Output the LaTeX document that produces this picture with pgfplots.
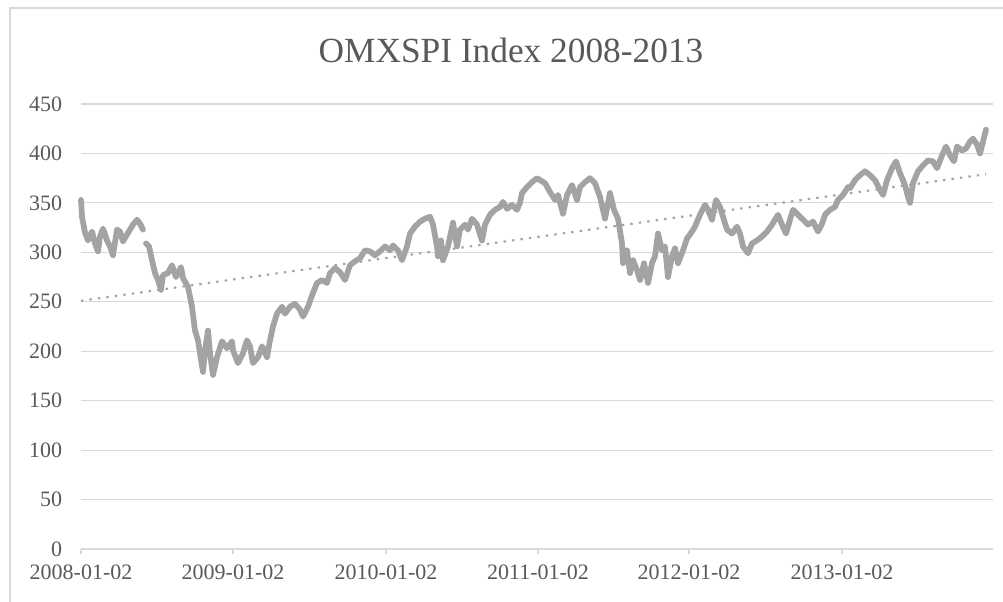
\documentclass[border=0pt]{standalone}
\usepackage{pgfplots}
\pgfplotsset{compat=1.18}
\usepackage{fontspec}
\setmainfont{Liberation Serif}
\definecolor{gridgray}{HTML}{D9D9D9}
\definecolor{linegray}{HTML}{A3A3A3}
\definecolor{textgray}{HTML}{595959}
\begin{document}
\begin{tikzpicture}
\useasboundingbox (0,0) rectangle (752.25pt,451.5pt);
\draw[gridgray, line width=1.2pt] (7.5pt,-2pt) -- (7.5pt,445.5pt) -- (760pt,445.5pt);
\node[text=textgray, font=\fontsize{26.5}{30}\selectfont] at (383.25pt,414pt) {OMXSPI Index 2008-2013};
\begin{axis}[
  at={(60.75pt,39.75pt)}, anchor=south west,
  scale only axis, width=684pt, height=333.75pt,
  xmin=0, xmax=912, ymin=0, ymax=450,
  xtick={0,152,305,457,608,761},
  xticklabels={2008-01-02,2009-01-02,2010-01-02,2011-01-02,2012-01-02,2013-01-02},
  ytick={0,50,...,450},
  ymajorgrids, grid style={gridgray, line width=0.8pt},
  axis line style={draw=none},
  tick align=outside, xtick pos=bottom, ytick pos=left,
  ytick style={draw=none},
  xtick style={draw=gridgray, line width=0.8pt},
  major tick length=4pt,
  /pgf/number format/assume math mode=true,
  ticklabel style={text=textgray, font=\fontsize{16.5}{18}\selectfont},
  yticklabel style={inner sep=0pt, xshift=-10pt},
  xticklabel style={inner sep=0pt, yshift=-8pt},
  unbounded coords=jump,
  clip=false,
]
\addplot[linegray, line width=4.3pt, line join=round, line cap=round] coordinates {
(0,353)(1,336)(4,320)(7,312)(11,321)(14,309)(17,301)(19,316)(22,324)(26,312)
(29,306)(32,297)(36,323)(39,321)(42,311)(46,318)(49,323)(52,328)(56,333)(59,329)
(62,323)(63,nan)(65,309)(68,306)(71,292)(74,279)(77,272)(80,262)(82,277)(87,279)(91,287)
(95,275)(100,285)(102,274)(107,265)(109,255)(111,245)(114,221)(117,211)(119,198)(122,179)
(124,201)(127,221)(129,198)(132,176)(136,194)(141,210)(146,203)(151,210)(152,201)(157,188)
(162,198)(166,211)(169,205)(172,188)(177,194)(181,205)(186,194)(189,211)(192,225)(196,238)
(201,245)(204,238)(209,245)(214,248)(219,242)(222,235)(227,245)(232,259)(236,269)(241,272)
(246,269)(249,279)(254,284)(259,280)(264,272)(269,287)(274,291)(279,294)(284,302)(289,301)
(294,297)(299,301)(304,306)(309,302)(312,307)(317,302)(321,292)(326,306)(329,319)(334,326)
(339,331)(344,334)(349,336)(352,328)(356,306)(357,296)(360,312)(362,292)(367,306)(372,330)
(376,306)(379,323)(384,328)(387,323)(391,334)(396,328)(401,312)(404,328)(409,338)(414,343)
(419,346)(422,351)(426,344)(431,348)(436,343)(439,350)(441,360)(446,366)(451,371)(456,375)
(459,373)(464,370)(469,361)(474,353)(477,358)(482,339)(486,358)(491,368)(496,353)(499,366)
(504,371)(509,375)(514,370)(519,356)(524,334)(529,360)(533,343)(537,334)(541,309)(542,289)
(546,302)(549,279)(552,292)(556,282)(559,272)(563,289)(567,269)(571,289)(574,296)(577,319)
(581,302)(584,306)(587,275)(591,296)(594,304)(597,289)(602,302)(606,314)(611,321)(614,326)
(619,338)(624,348)(627,343)(631,333)(635,353)(639,346)(642,336)(646,323)(651,319)(656,326)
(659,319)(662,306)(667,299)(671,309)(676,312)(681,316)(686,321)(691,328)(694,333)(697,338)
(701,328)(705,319)(709,333)(712,343)(717,338)(722,333)(727,328)(732,331)(737,321)(741,329)
(744,338)(749,343)(754,346)(757,353)(762,358)(767,366)(769,365)(774,373)(779,378)(784,382)
(789,378)(794,373)(799,363)(802,358)(806,373)(811,385)(815,392)(819,380)(824,368)(827,356)
(829,350)(832,370)(837,382)(842,388)(847,393)(852,392)(856,385)(861,398)(865,407)(869,398)
(873,392)(876,407)(881,403)(885,405)(889,412)(892,415)(896,409)(899,400)(902,412)(905,424)
};
\addplot[linegray, line width=1.6pt, dash pattern=on 1.8pt off 4.6pt] coordinates {(0,251)(905,379)};
\end{axis}
\end{tikzpicture}
\end{document}
